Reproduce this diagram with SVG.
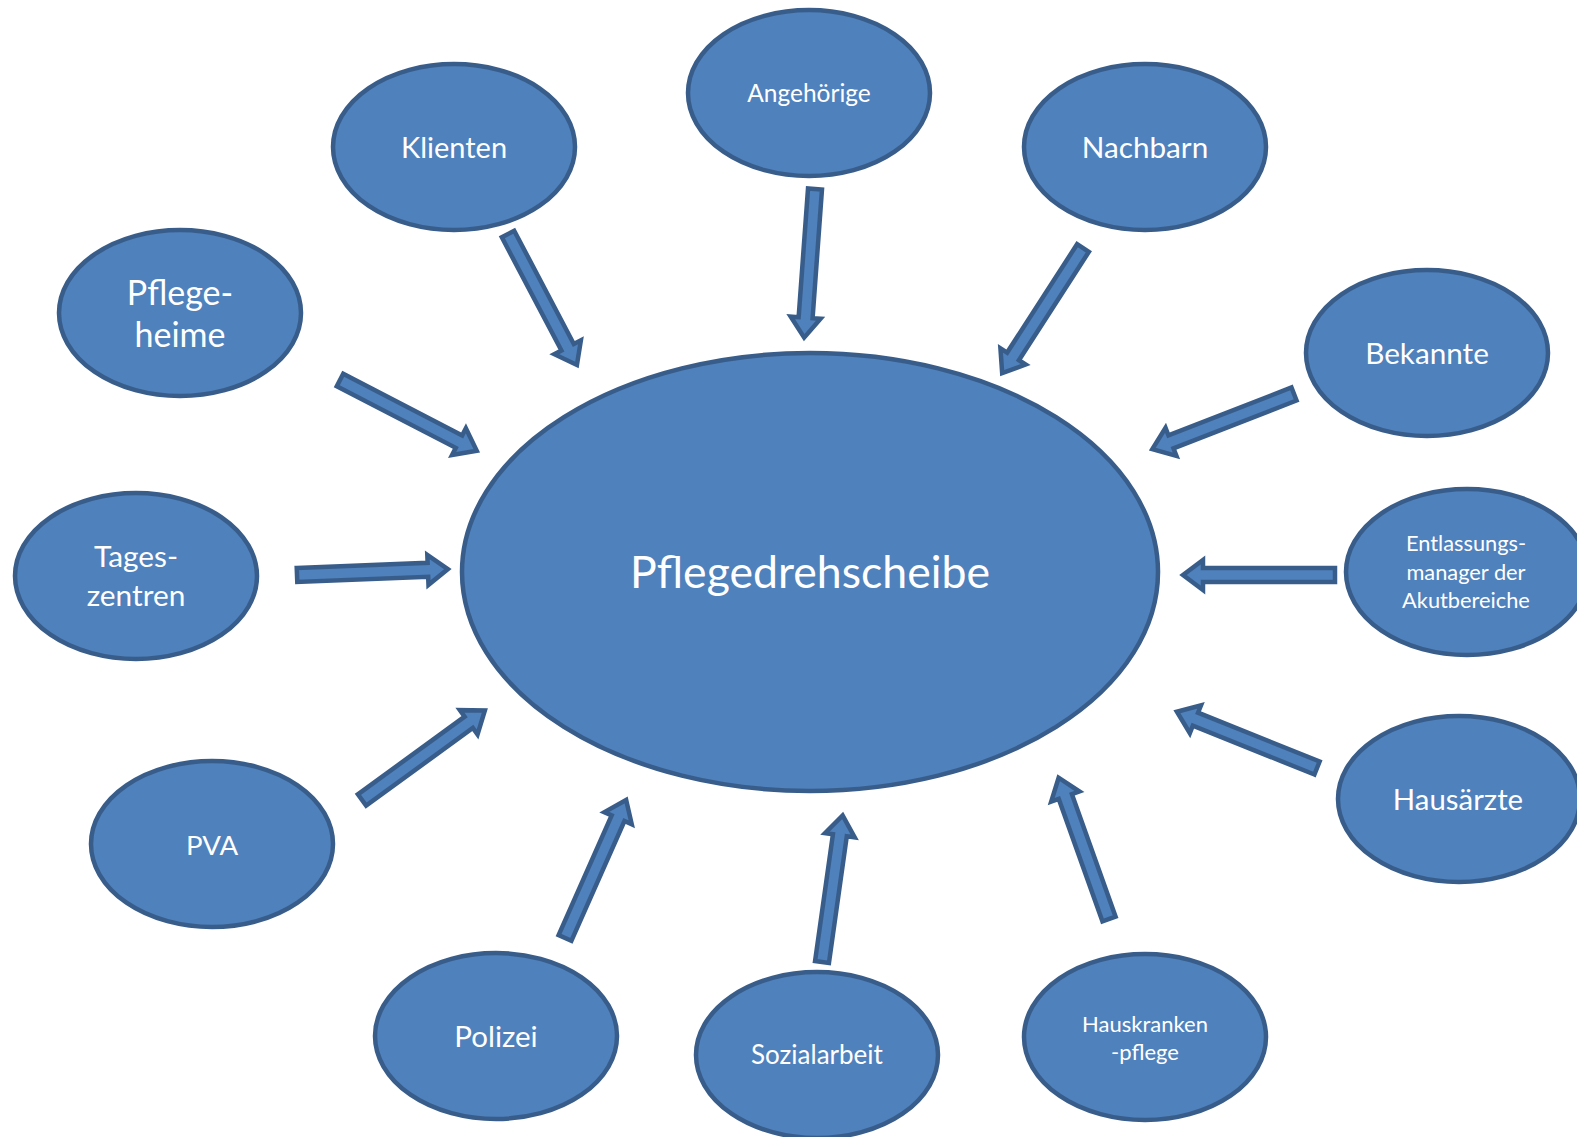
<svg xmlns="http://www.w3.org/2000/svg" width="1577" height="1137" viewBox="0 0 1577 1137">
<style>
.n{fill:#4F81BD;stroke:#385D8A;stroke-width:4.5}
.a{fill:#4F81BD;stroke:#385D8A;stroke-width:4.5;stroke-linejoin:miter}
text{fill:#fff;font-family:Lato,"Open Sans","Liberation Sans",sans-serif;text-anchor:middle}
</style>
<rect width="1577" height="1137" fill="#fff"/>
<g id="connectors">
<path class="a" transform="translate(508,234) rotate(62.24)" d="M0,-7 H128 V-15 L148,0 L128,15 V7 H0 Z"/>
<path class="a" transform="translate(815,189) rotate(94.17)" d="M0,-7 H129 V-15 L149,0 L129,15 V7 H0 Z"/>
<path class="a" transform="translate(1083,248) rotate(122.85)" d="M0,-7 H129 V-15 L149,0 L129,15 V7 H0 Z"/>
<path class="a" transform="translate(340,380) rotate(27.38)" d="M0,-7 H134 V-15 L154,0 L134,15 V7 H0 Z"/>
<path class="a" transform="translate(1294,394) rotate(158.75)" d="M0,-7 H132 V-15 L152,0 L132,15 V7 H0 Z"/>
<path class="a" transform="translate(297,575) rotate(-2.25)" d="M0,-7 H131 V-15 L151,0 L131,15 V7 H0 Z"/>
<path class="a" transform="translate(1335,575) rotate(180)" d="M0,-7 H132 V-15 L152,0 L132,15 V7 H0 Z"/>
<path class="a" transform="translate(362,800) rotate(-36.06)" d="M0,-7 H132 V-15 L152,0 L132,15 V7 H0 Z"/>
<path class="a" transform="translate(1317,768) rotate(-158.13)" d="M0,-7 H131 V-15 L151,0 L131,15 V7 H0 Z"/>
<path class="a" transform="translate(565,938) rotate(-66.11)" d="M0,-7 H131 V-15 L151,0 L131,15 V7 H0 Z"/>
<path class="a" transform="translate(822,962) rotate(-81.98)" d="M0,-7 H128 V-15 L148,0 L128,15 V7 H0 Z"/>
<path class="a" transform="translate(1109,919) rotate(-109.63)" d="M0,-7 H130 V-15 L150,0 L130,15 V7 H0 Z"/>
</g>
<g id="center"><ellipse class="n" cx="810" cy="572" rx="348" ry="219"/><text x="810" y="588" font-size="44.6">Pflegedrehscheibe</text></g>
<g id="klienten"><ellipse class="n" cx="454" cy="147" rx="121" ry="83"/><text x="454" y="158" font-size="29">Klienten</text></g>
<g id="angehoerige"><ellipse class="n" cx="809" cy="93" rx="121" ry="83"/><text x="809" y="102" font-size="24.5">Angehörige</text></g>
<g id="nachbarn"><ellipse class="n" cx="1145" cy="147" rx="121" ry="83"/><text x="1145" y="158" font-size="29.7">Nachbarn</text></g>
<g id="pflegeheime"><ellipse class="n" cx="180" cy="313" rx="121" ry="83"/><text x="180" y="305" font-size="34">Pflege-</text><text x="180" y="347" font-size="34">heime</text></g>
<g id="bekannte"><ellipse class="n" cx="1427" cy="353" rx="121" ry="83"/><text x="1427" y="364" font-size="29.7">Bekannte</text></g>
<g id="tageszentren"><ellipse class="n" cx="136" cy="576" rx="121" ry="83"/><text x="136" y="567" font-size="29.8">Tages-</text><text x="136" y="606" font-size="29.8">zentren</text></g>
<g id="entlassung"><ellipse class="n" cx="1467" cy="572" rx="121" ry="83"/><text x="1466" y="551" font-size="21.8">Entlassungs-</text><text x="1466" y="580" font-size="21.8">manager der</text><text x="1466" y="608" font-size="21.8">Akutbereiche</text></g>
<g id="pva"><ellipse class="n" cx="212" cy="844" rx="121" ry="83"/><text x="212" y="855" font-size="27.6">PVA</text></g>
<g id="hausaerzte"><ellipse class="n" cx="1459" cy="799" rx="121" ry="83"/><text x="1458" y="810" font-size="29.4">Hausärzte</text></g>
<g id="polizei"><ellipse class="n" cx="496" cy="1036" rx="121" ry="83"/><text x="496" y="1047" font-size="29.5">Polizei</text></g>
<g id="sozialarbeit"><ellipse class="n" cx="817" cy="1055" rx="121" ry="83"/><text x="817" y="1064" font-size="26">Sozialarbeit</text></g>
<g id="hauskrankenpflege"><ellipse class="n" cx="1145" cy="1037" rx="121" ry="83"/><text x="1145" y="1032" font-size="22">Hauskranken</text><text x="1145" y="1060" font-size="22">-pflege</text></g>
</svg>
